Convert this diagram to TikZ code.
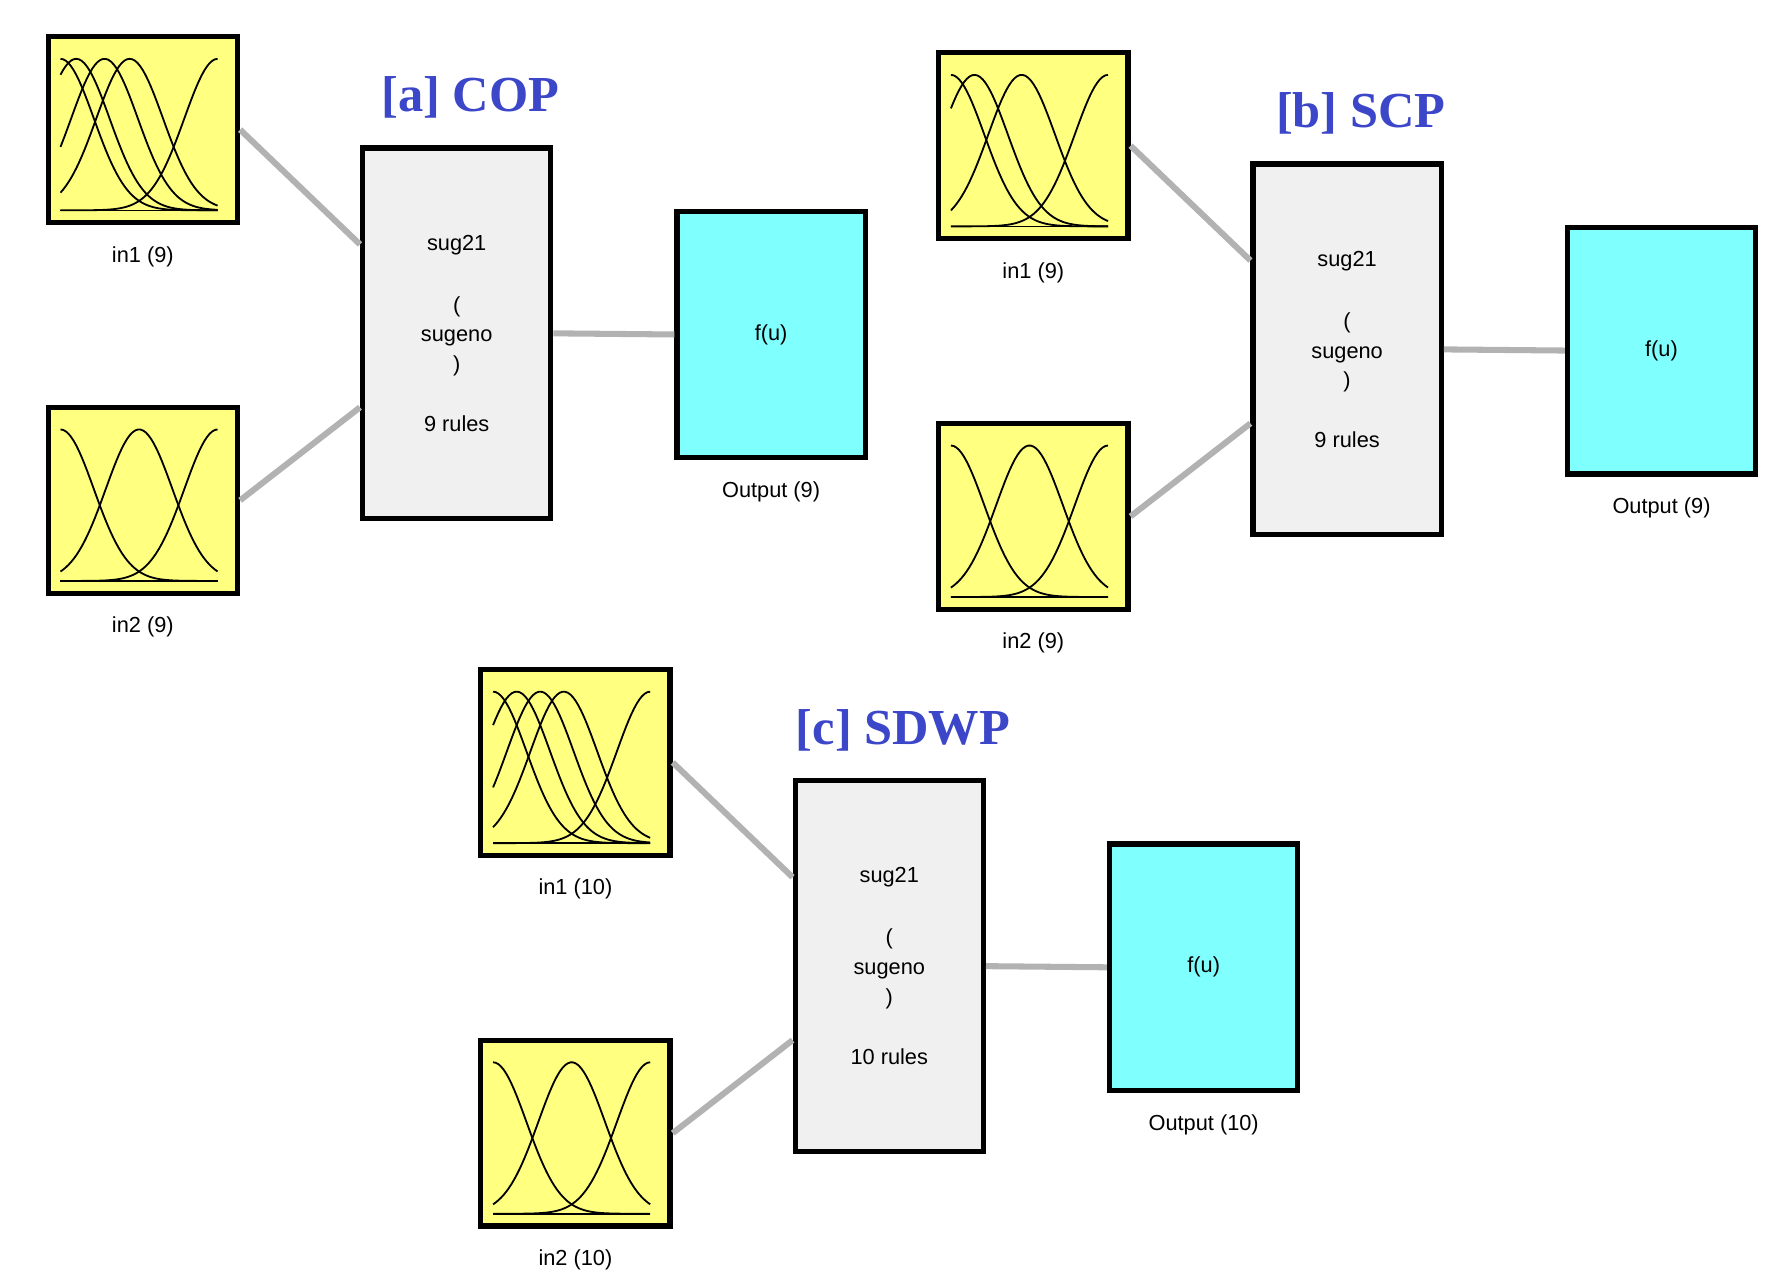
\documentclass[tikz,border=0pt]{standalone}
\usepackage{fontspec}
\setmainfont{Liberation Sans}
\newfontfamily\titlefont{Liberation Serif}
\usetikzlibrary{positioning}

\definecolor{mfyellow}{RGB}{255,255,128}
\definecolor{fisgray}{RGB}{240,240,240}
\definecolor{outcyan}{RGB}{128,255,255}
\definecolor{titleblue}{RGB}{60,70,200}

\tikzset{
  blk/.style={draw=black,line width=1.3pt,inner sep=0pt},
  inbox/.style={blk,fill=mfyellow,minimum width=1.65cm,minimum height=1.62cm},
  fisbox/.style={blk,fill=fisgray,minimum width=1.64cm,minimum height=3.23cm,
                 align=center,font=\fontsize{5.4}{7.4}\selectfont},
  outbox/.style={blk,fill=outcyan,minimum width=1.64cm,minimum height=2.15cm,
                 font=\fontsize{5.4}{7}\selectfont},
  lbl/.style={font=\fontsize{5.4}{7}\selectfont,label distance=0.06cm},
  wire/.style={draw=black!30,line width=1.5pt},
  ttl/.style={font=\titlefont\bfseries\fontsize{12.5}{14}\selectfont,text=titleblue}
}

% membership functions inside an input box: #1 box name, #2 list of centres
\newcommand\mfplot[2]{%
  \begin{scope}[shift={(#1.south west)}]
    \draw[line width=0.4pt] (0.13,0.13) -- (1.5,0.13);
    \foreach \c in {#2}
      \draw[line width=0.45pt] plot[domain=0:1,samples=60]
        ({0.13+1.37*\x},{0.13+1.32*exp(-(\x-\c)*(\x-\c)/0.09)});
  \end{scope}
}

% one fuzzy system: #1 prefix, #2 x, #3 y (centre of rule box), #4 inputs, #5 rules, #6 title, #7 in1 centres
\newcommand\fispanel[7]{%
  \node[fisbox] (#1-fis) at (#2,#3) {sug21\\[0.28cm](\\sugeno\\)\\[0.26cm]#5 rules};
  \node[inbox,label={[lbl]below:in1 (#4)}] (#1-in1) at ([xshift=-2.735cm,yshift=1.775cm]#1-fis.center) {};
  \node[inbox,label={[lbl]below:in2 (#4)}] (#1-in2) at ([xshift=-2.735cm,yshift=-1.455cm]#1-fis.center) {};
  \node[outbox,label={[lbl]below:Output (#4)}] (#1-out) at ([xshift=2.74cm,yshift=-0.01cm]#1-fis.center) {f(u)};
  \node[ttl] (#1-ttl) at ([xshift=0.12cm,yshift=2.055cm]#1-fis.center) {#6};
  \mfplot{#1-in1}{#7}
  \mfplot{#1-in2}{0,0.5,1}
  \draw[wire] (#1-in1.east) -- ([yshift=0.775cm]#1-fis.west);
  \draw[wire] (#1-in2.east) -- ([yshift=-0.645cm]#1-fis.west);
  \draw[wire] (#1-fis.east) -- (#1-out.west);
}

\begin{document}
\begin{tikzpicture}
  \useasboundingbox (0,0) rectangle (15.6,-11.17);

  \fispanel{a}{3.98}{-2.905}{9}{9}{[a] COP}{0,0.1,0.28,0.44,1}
  \fispanel{b}{11.74}{-3.045}{9}{9}{[b] SCP}{0,0.15,0.45,1}
  \fispanel{c}{7.75}{-8.42}{10}{10}{[c] SDWP}{0,0.15,0.3,0.45,1}
\end{tikzpicture}
\end{document}
